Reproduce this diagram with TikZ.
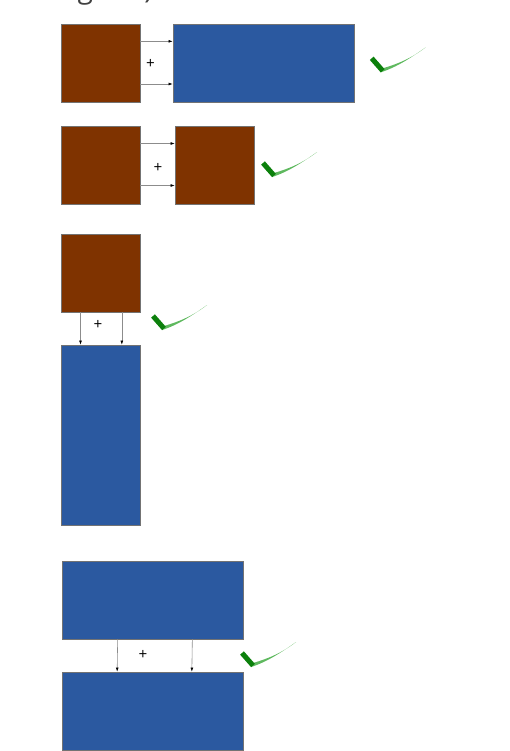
\documentclass[tikz,border=0pt]{standalone}
\usepackage{fontspec}
\newfontfamily\titlefont{Open Sans}
\usetikzlibrary{arrows.meta}
\definecolor{brickbrown}{RGB}{127,51,0}
\definecolor{boxblue}{RGB}{43,89,160}
\definecolor{tickdark}{RGB}{12,128,12}
\definecolor{ticklight}{RGB}{95,185,95}

\begin{document}
\begin{tikzpicture}[x=0.03cm, y=-0.03cm]
	\tikzset{
	box/.style={rectangle, draw=black!55, line width=0.4pt, inner sep=0pt},
	brownbox/.style={box, fill=brickbrown, minimum width=2.37cm, minimum height=2.34cm},
	widebox/.style={box, fill=boxblue, minimum width=5.43cm, minimum height=2.34cm},
	tallbox/.style={box, fill=boxblue, minimum width=2.37cm, minimum height=5.4cm},
	arrow/.style={-{Latex[length=3.5pt, width=2.4pt, black]}, black!45, line width=0.5pt},
	plus/.style={font=\titlefont\fontsize{13}{15}\selectfont, inner sep=0pt},
	okmark/.pic={
		\fill[ticklight] (9,14) .. controls (25,9) and (40,-1) .. (54,-11)
			.. controls (40,0) and (25,6) .. (11,10) -- cycle;
		\draw[tickdark, line width=4.3pt] (0,0) -- (11,12.5);}}

	\useasboundingbox (0,0) rectangle (510,751);

	\node[anchor=base east, inner sep=0pt, text=black!75,
		font=\titlefont\fontsize{24}{28}\selectfont] (title) at (153,-1.2) {(rectangular)};

	%brown next to wide blue
	\node[brownbox] (a1) at (100.5,63) {};
	\node[widebox] (b1) at (263.5,63) {};
	\draw[arrow] ([yshift=0.65cm]a1.east) -- ([yshift=0.65cm]b1.west);
	\draw[arrow] ([yshift=-0.63cm]a1.east) -- ([yshift=-0.63cm]b1.west);
	\node[plus] (p1) at (150.5,64) {+};
	\pic at (371.7,58.3) {okmark};

	%brown next to brown
	\node[brownbox] (a2) at (100.5,165.5) {};
	\node[brownbox] (b2) at (214.5,165.5) {};
	\draw[arrow] ([yshift=0.66cm]a2.east) -- ([yshift=0.66cm]b2.west);
	\draw[arrow] ([yshift=-0.6cm]a2.east) -- ([yshift=-0.6cm]b2.west);
	\node[plus] (p2) at (158,167.5) {+};
	\pic at (263,163) {okmark};

	%brown above tall blue
	\node[brownbox] (a3) at (100.5,273) {};
	\node[tallbox] (b3) at (100.5,435) {};
	\draw[arrow] ([xshift=-0.6cm]a3.south) -- ([xshift=-0.6cm]b3.north);
	\draw[arrow] ([xshift=0.64cm]a3.south) -- ([xshift=0.64cm]b3.north);
	\node[plus] (p3) at (98,325) {+};
	\pic at (153,316) {okmark};

	%wide blue above wide blue
	\node[widebox] (a4) at (153,600) {};
	\node[widebox] (b4) at (152.5,711) {};
	\draw[arrow] ([xshift=-1.06cm]a4.south) -- ([xshift=-1.06cm]b4.north);
	\draw[arrow] ([xshift=1.18cm]a4.south) -- ([xshift=1.18cm]b4.north);
	\node[plus] (p4) at (143,655) {+};
	\pic at (242,653) {okmark};

\end{tikzpicture}
\end{document}
